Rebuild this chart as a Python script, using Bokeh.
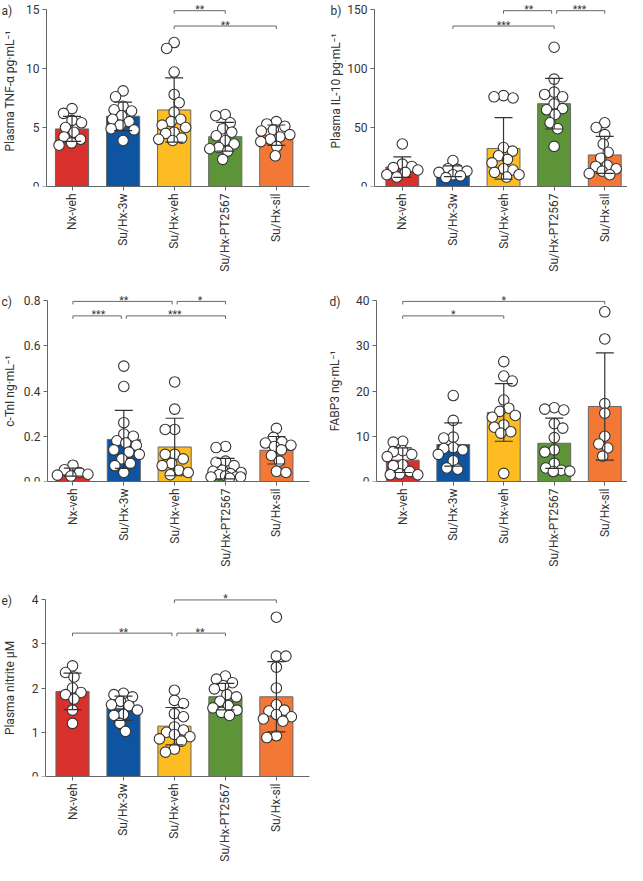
import math
import numpy as np
from bokeh.plotting import figure
from bokeh.models import FixedTicker, NumeralTickFormatter
from bokeh.layouts import gridplot
from bokeh.embed import file_html
from bokeh.resources import INLINE
from bokeh.core.properties import value

FONT = "Roboto"
groups = ["Nx-veh", "Su/Hx-3w", "Su/Hx-veh", "Su/Hx-PT2567", "Su/Hx-sil"]
bar_colors = ["#d8302c", "#0e54a0", "#fcbc22", "#5d9438", "#f47835"]

# a) Plasma TNF-alpha (pg/mL)
tnf = [
    [6.6, 6.2, 5.6, 5.4, 5.0, 4.6, 4.2, 4.0, 3.7, 3.5],
    [8.1, 7.6, 6.8, 6.5, 6.4, 6.0, 5.7, 5.5, 5.2, 4.9, 4.8, 3.9],
    [12.2, 11.7, 9.7, 7.8, 7.1, 6.3, 5.7, 5.5, 5.2, 5.0, 4.6, 4.5, 4.1, 4.0, 3.9],
    [6.1, 6.0, 5.4, 4.9, 4.6, 4.3, 3.9, 3.6, 3.3, 3.2, 3.0, 2.3],
    [5.5, 5.3, 5.1, 4.8, 4.7, 4.4, 4.2, 4.0, 3.8, 3.4, 2.6],
]
tnf_ticks = [0, 5, 10, 15]
tnf_sig = [(2, 3, "**", 14.9), (2, 4, "**", 13.6)]

# b) Plasma IL-10 (pg/mL)
il10 = [
    [36, 19, 17, 16, 14, 12, 10, 8],
    [22, 15, 14.5, 13, 12, 10, 9, 7.5],
    [77, 76, 75, 33, 30, 26, 23, 20, 15, 14, 12, 10, 8],
    [118, 91, 80, 78, 76, 70, 66, 65, 61, 54, 49, 34],
    [54, 50, 44, 36, 29, 24, 18, 17, 15, 13, 11, 10],
]
il10_ticks = [0, 50, 100, 150]
il10_sig = [(2, 3, "**", 149), (3, 4, "***", 149), (1, 3, "***", 136)]

# c) c-TnI (ng/mL)
ctni = [
    [0.072, 0.052, 0.040, 0.032, 0.028, 0.024],
    [0.51, 0.42, 0.26, 0.21, 0.20, 0.18, 0.17, 0.16, 0.14, 0.13, 0.12, 0.10, 0.08, 0.07, 0.04],
    [0.44, 0.32, 0.23, 0.23, 0.12, 0.12, 0.10, 0.08, 0.07, 0.05, 0.04, 0.03],
    [0.155, 0.15, 0.09, 0.085, 0.07, 0.05, 0.045, 0.04, 0.035, 0.03, 0.025, 0.02, 0.02, 0.02, 0.015],
    [0.235, 0.195, 0.175, 0.17, 0.16, 0.155, 0.14, 0.115, 0.09, 0.045, 0.04],
]
ctni_ticks = [0.0, 0.2, 0.4, 0.6, 0.8]
ctni_sig = [(0, 2, "**", 0.796), (2, 3, "*", 0.796), (0, 1, "***", 0.732), (1, 3, "***", 0.732)]

# d) FABP3 (ng/mL)
fabp3 = [
    [8.9, 8.7, 6.8, 6.6, 6.0, 5.5, 3.7, 3.5, 2.2, 1.7, 1.5, 1.5],
    [19, 13.5, 9.8, 9.6, 7.5, 7.3, 7.0, 6.0, 4.6, 3.0, 2.7],
    [26.5, 23.3, 22.2, 18, 16.2, 15.5, 14.6, 14.2, 12.5, 12, 11, 10.7, 1.8],
    [16.3, 16.0, 15.8, 12.8, 11.8, 9.7, 7.0, 6.5, 4.0, 3.0, 2.5, 2.3, 2.2],
    [37.5, 31.5, 17.2, 15.1, 10, 8.3, 7.4, 5.6],
]
fabp3_ticks = [0, 10, 20, 30, 40]
fabp3_sig = [(0, 4, "*", 39.8), (0, 2, "*", 36.6)]

# e) Plasma nitrite (uM)
nitrite = [
    [2.5, 2.35, 2.25, 2.0, 1.9, 1.85, 1.75, 1.5, 1.2],
    [1.88, 1.85, 1.80, 1.70, 1.62, 1.60, 1.50, 1.40, 1.38, 1.20, 1.02],
    [1.95, 1.72, 1.65, 1.42, 1.35, 1.12, 1.05, 1.0, 0.95, 0.9, 0.85, 0.8, 0.62, 0.55],
    [2.27, 2.2, 2.12, 2.05, 1.98, 1.85, 1.8, 1.7, 1.6, 1.55, 1.5, 1.45, 1.38],
    [3.6, 2.72, 2.72, 2.47, 2.0, 1.62, 1.5, 1.48, 1.4, 1.35, 1.3, 1.25, 0.92, 0.88],
]
nitrite_ticks = [0, 1, 2, 3, 4]
nitrite_sig = [(2, 4, "*", 3.99), (0, 2, "**", 3.24), (2, 3, "**", 3.24)]

AX = "#666666"
TXT = "#333333"
DOT = 10.5


def swarm_offsets(vals, py, dmin, max_off):
    order = sorted(range(len(vals)), key=lambda i: -vals[i])
    placed = []
    offs = [0.0] * len(vals)
    for k, i in enumerate(order):
        y = vals[i] * py
        sgn = 1 if k % 2 == 0 else -1
        cands = [0.0]
        for s in np.arange(0.5, max_off + 0.01, 0.5):
            cands += [sgn * s, -sgn * s]
        best, best_d = 0.0, -1.0
        for c in cands:
            d = min([math.hypot(c - a, y - b) for a, b in placed] or [1e9])
            if d >= dmin:
                best = c
                break
            if d > best_d + 0.5:
                best, best_d = c, d
        offs[i] = best
        placed.append((best, y))
    return offs


def panel(data, ylabel, ticks, fmt, letter, sigs, W, H, fl, fr, bb, top_px,
          ax_x, xe, page_left, letter_px, ylab_px, ylab_shift):
    frame_h = H - bb
    top = ticks[-1]
    y_end = top * frame_h / (frame_h - top_px)
    py = frame_h / y_end
    pxu = (W - fl - fr) / (xe - ax_x)
    xs0 = ax_x - fl / pxu

    p = figure(width=W, height=H, x_range=(xs0, xe), y_range=(0, y_end),
               min_border_left=0, min_border_right=fr, min_border_top=0,
               min_border_bottom=bb, toolbar_location=None, tools="",
               output_backend="svg", title=None)
    p.outline_line_color = None
    p.xgrid.visible = False
    p.ygrid.visible = False
    p.background_fill_color = "white"
    p.border_fill_color = "white"

    idx = list(range(len(groups)))
    means = [float(np.mean(v)) for v in data]
    sds = [float(np.std(v, ddof=1)) for v in data]

    p.vbar(x=idx, top=means, bottom=0, width=0.65, fill_color=bar_colors,
           line_color=AX, line_width=1)

    xs, ys = [], []
    for i, v in enumerate(data):
        offs = swarm_offsets(v, py, 9.5, 15.5)
        xs += [i + o / pxu for o in offs]
        ys += list(v)
    p.scatter(xs, ys, size=DOT, fill_color="white", line_color="#333333", line_width=1.1)

    cw = 9.0 / pxu
    lo = [max(m - s, 0) for m, s in zip(means, sds)]
    hi = [m + s for m, s in zip(means, sds)]
    p.segment(x0=idx, y0=lo, x1=idx, y1=hi, line_color="#333333", line_width=1.2)
    p.segment(x0=[i - cw for i in idx], y0=hi, x1=[i + cw for i in idx], y1=hi,
              line_color="#333333", line_width=1.2)
    p.segment(x0=[i - cw for i in idx], y0=lo, x1=[i + cw for i in idx], y1=lo,
              line_color="#333333", line_width=1.2)

    # significance brackets
    bx0, bx1, by, tx0, ty0, ty1, sx, sy, st = [], [], [], [], [], [], [], [], []
    gap = 2.5 / pxu
    tick = 3.0 / py
    for (i, j, s, lev) in sigs:
        a, b = float(i), float(j)
        for (i2, j2, s2, lev2) in sigs:
            if lev2 == lev and (i2, j2) != (i, j):
                if i in (i2, j2):
                    a += gap
                if j in (i2, j2):
                    b -= gap
        bx0.append(a); bx1.append(b); by.append(lev)
        tx0 += [a, b]; ty0 += [lev, lev]; ty1 += [lev - tick, lev - tick]
        sx.append((i + j) / 2); sy.append(lev); st.append(s)
    p.segment(x0=bx0, y0=by, x1=bx1, y1=by, line_color=AX, line_width=1)
    p.segment(x0=tx0, y0=ty0, x1=tx0, y1=ty1, line_color=AX, line_width=1)
    p.text(x=sx, y=sy, text=st, text_align="center", text_baseline="alphabetic",
           y_offset=-1, text_font_size="10.5px", text_color=TXT, text_font=value(FONT))

    # axes
    for ax in (p.xaxis[0], p.yaxis[0]):
        ax.axis_line_color = AX
        ax.major_tick_line_color = AX
        ax.minor_tick_line_color = None
        ax.major_tick_out = 4
        ax.major_tick_in = 0
        ax.major_label_text_font = FONT
        ax.major_label_text_font_size = "12px"
        ax.major_label_text_color = TXT
        ax.major_label_standoff = 3
    p.yaxis.ticker = FixedTicker(ticks=ticks)
    p.yaxis.bounds = (0, top)
    p.yaxis.fixed_location = ax_x
    p.yaxis.formatter = NumeralTickFormatter(format=fmt)
    p.xaxis.ticker = FixedTicker(ticks=idx)
    p.xaxis.bounds = (ax_x, xe)
    p.xaxis.major_label_overrides = {i: g for i, g in enumerate(groups)}
    p.xaxis.major_label_orientation = math.pi / 2

    def to_x(page_x):
        return xs0 + (page_x - page_left) / pxu

    p.text(x=[to_x(letter_px)], y=[top], text=[letter], text_align="left",
           text_baseline="middle", text_font=value(FONT), text_font_size="12px",
           text_color=TXT, y_offset=1)
    p.text(x=[to_x(ylab_px)], y=[top / 2 - ylab_shift / py], text=[ylabel],
           angle=math.pi / 2, text_align="center", text_baseline="middle",
           text_font=value(FONT), text_font_size="12px", text_color=TXT)
    return p


W1, W2 = 316, 311
H1, H2, H3 = 282, 290, 293
pa = panel(tnf, "Plasma TNF-\u03b1 pg\u00b7mL\u207b\u00b9", tnf_ticks, "0", "a)", tnf_sig,
           W1, H1, 46, 7, 96, 9, -0.5, 4.65, 8, 9, 17, -7)
pb = panel(il10, "Plasma IL-10 pg\u00b7mL\u207b\u00b9", il10_ticks, "0", "b)", il10_sig,
           W2, H1, 58, 0, 96, 9, -0.55, 4.45, 324, 338, 343, -7)
pc = panel(ctni, "c-TnI ng\u00b7mL\u207b\u00b9", ctni_ticks, "0.0", "c)", ctni_sig,
           W1, H2, 47, 7, 91, 18, -0.5, 4.65, 8, 9, 17, 0)
pd = panel(fabp3, "FABP3 ng\u00b7mL\u207b\u00b9", fabp3_ticks, "0", "d)", fabp3_sig,
           W2, H2, 60, 0, 91, 18, -0.52, 4.45, 324, 337, 342, 0)
pe = panel(nitrite, "Plasma nitrite \u03bcM", nitrite_ticks, "0", "e)", nitrite_sig,
           W1, H3, 45, 7, 89, 27, -0.53, 4.65, 8, 9, 17, 0)

layout = gridplot([[pa, pb], [pc, pd], [pe, None]], toolbar_location=None)
open("out.html", "w").write(file_html(layout, INLINE))
